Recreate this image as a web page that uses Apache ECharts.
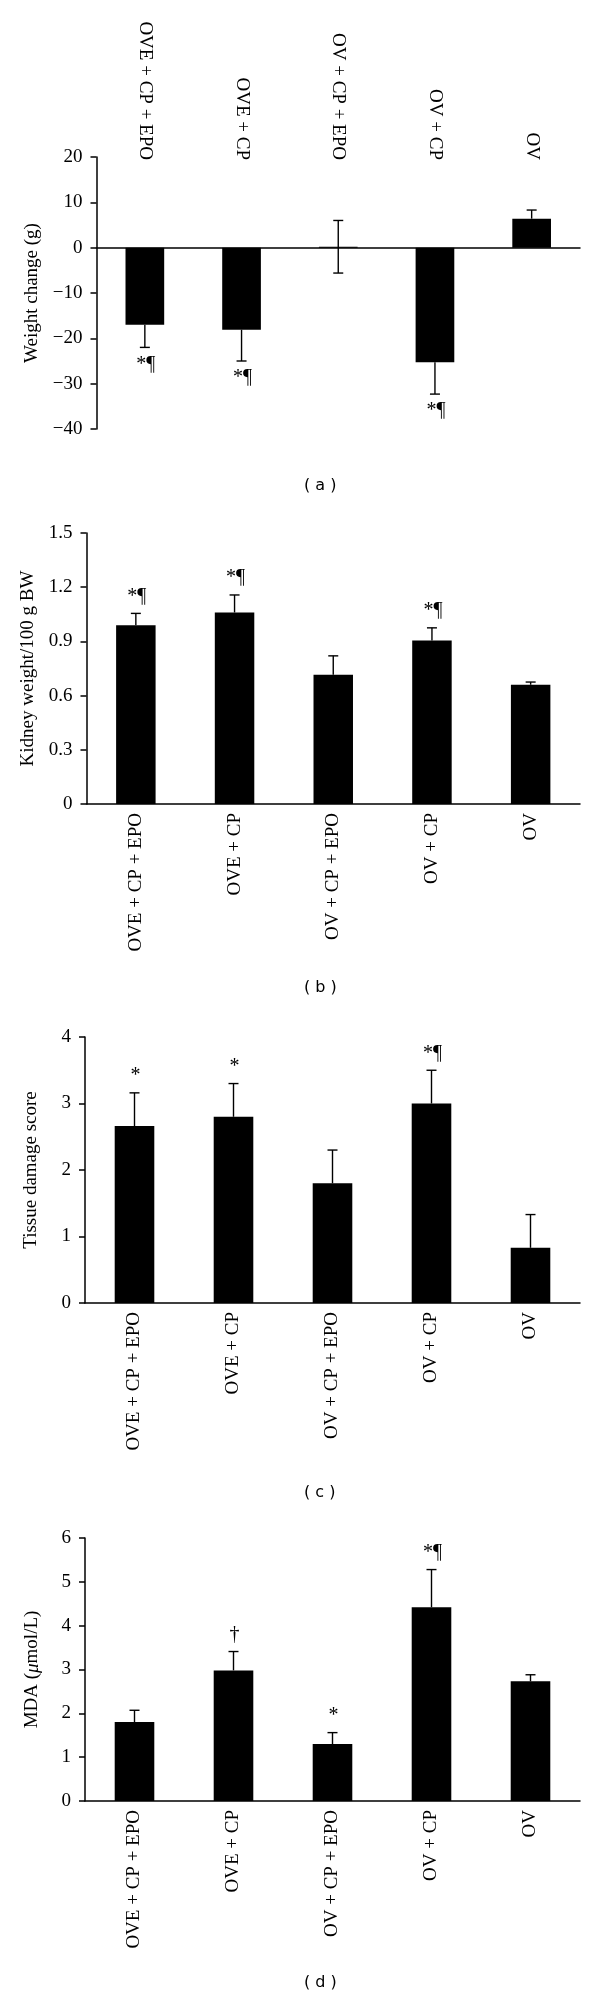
<!DOCTYPE html>
<html>
<head>
<meta charset="utf-8">
<script src="https://cdn.jsdelivr.net/npm/echarts@6/dist/echarts.min.js"></script>
<style>
html,body{margin:0;padding:0;background:#fff;}
#chart{width:600px;height:2003px;}
</style>
</head>
<body>
<div id="chart"></div>
<script>
// ---- data ----
const groups = ['OVE + CP + EPO', 'OVE + CP', 'OV + CP + EPO', 'OV + CP', 'OV'];

const weightChange = [-17.0, -18.1, 0.2, -25.3, 6.4];
const weightChangeErr = [5.0, 6.9, 5.8, 7.0, 1.9];
const weightChangeMarks = ['*¶', '*¶', '', '*¶', ''];

const kidneyWeight = [0.99, 1.06, 0.715, 0.905, 0.66];
const kidneyWeightErr = [0.065, 0.097, 0.105, 0.07, 0.015];
const kidneyWeightMarks = ['*¶', '*¶', '', '*¶', ''];

const tissueDamage = [2.66, 2.80, 1.80, 3.00, 0.83];
const tissueDamageErr = [0.50, 0.50, 0.50, 0.50, 0.50];
const tissueDamageMarks = ['*', '*', '', '*¶', ''];

const mda = [1.80, 2.98, 1.30, 4.42, 2.73];
const mdaErr = [0.27, 0.43, 0.26, 0.86, 0.15];
const mdaMarks = ['', '†', '*', '*¶', ''];

const panelLetters = ['( a )', '( b )', '( c )', '( d )'];

// ---- chart ----
const SERIF = '"Liberation Serif", "DejaVu Serif", serif';
const chart = echarts.init(document.getElementById('chart'), null, {renderer: 'canvas'});

const panels = [
  {name: 'Weight change (g)', vals: weightChange, err: weightChangeErr, marks: weightChangeMarks,
   min: -40, max: 20, interval: 10, grid: {left: 96.5, right: 20, top: 157, height: 272}, nameGap: 55, top: true},
  {name: 'Kidney weight/100 g BW', vals: kidneyWeight, err: kidneyWeightErr, marks: kidneyWeightMarks,
   min: 0, max: 1.5, interval: 0.3, grid: {left: 86.5, right: 20, top: 533, height: 271}, nameGap: 45},
  {name: 'Tissue damage score', vals: tissueDamage, err: tissueDamageErr, marks: tissueDamageMarks,
   min: 0, max: 4, interval: 1, grid: {left: 85, right: 20, top: 1037, height: 266}, nameGap: 44},
  {name: 'MDA ({i|μ}mol/L)', vals: mda, err: mdaErr, marks: mdaMarks,
   min: 0, max: 6, interval: 1, grid: {left: 85, right: 20, top: 1538, height: 263}, nameGap: 43}
];

const grids = [], xAxes = [], yAxes = [], series = [];
panels.forEach((p, i) => {
  grids.push(Object.assign({containLabel: false}, p.grid));
  const xi = xAxes.length;
  xAxes.push({
    type: 'category', gridIndex: i, data: groups, position: 'bottom',
    axisLine: {show: true, onZero: true, lineStyle: {color: '#000', width: 1.5}},
    axisTick: {show: false},
    axisLabel: p.top ? {show: false} : {show: true, rotate: 90, margin: 9, color: '#000', fontFamily: SERIF, fontSize: 19}
  });
  if (p.top) {
    xAxes.push({
      type: 'category', gridIndex: i, data: groups, position: 'top',
      axisLine: {show: false, onZero: false}, axisTick: {show: false},
      axisLabel: {show: true, rotate: 90, margin: -3, color: '#000', fontFamily: SERIF, fontSize: 19}
    });
  }
  yAxes.push({
    type: 'value', gridIndex: i, min: p.min, max: p.max, interval: p.interval,
    name: p.name, nameLocation: 'middle', nameRotate: 90, nameGap: p.nameGap,
    nameTextStyle: {color: '#000', fontFamily: SERIF, fontSize: 19,
      rich: {i: {fontStyle: 'italic', fontFamily: SERIF, fontSize: 19, color: '#000'}}},
    axisLine: {show: true, lineStyle: {color: '#000', width: 1.5}},
    axisTick: {show: true, length: 6, lineStyle: {color: '#000', width: 1.5}},
    splitLine: {show: false},
    axisLabel: {color: '#000', fontFamily: SERIF, fontSize: 19, margin: 14,
      formatter: v => String(Math.round(v * 10) / 10).replace('-', '\u2212')}
  });
  series.push({
    type: 'bar', xAxisIndex: xi, yAxisIndex: i, data: p.vals, barWidth: '40%',
    itemStyle: {color: '#000'}, silent: true, animation: false
  });
  series.push({
    type: 'custom', xAxisIndex: xi, yAxisIndex: i, animation: false, silent: true,
    data: p.vals.map((v, k) => [k, v, p.err[k]]),
    renderItem: (params, api) => {
      const k = api.value(0), v = api.value(1), e = api.value(2);
      const mark = p.marks[k];
      const both = Math.abs(v) < e / 2;
      const dir = v >= 0 ? 1 : -1;
      const hi = both ? v + e : v + dir * e;
      const lo = both ? v - e : v;
      const pHi = api.coord([k, hi]);
      const pLo = api.coord([k, lo]);
      const cap = 5;
      const st = {stroke: '#000', lineWidth: 1.4};
      const children = [
        {type: 'line', shape: {x1: pHi[0], y1: pHi[1], x2: pLo[0], y2: pLo[1]}, style: st},
        {type: 'line', shape: {x1: pHi[0] - cap, y1: pHi[1], x2: pHi[0] + cap, y2: pHi[1]}, style: st}
      ];
      if (both) children.push({type: 'line', shape: {x1: pLo[0] - cap, y1: pLo[1], x2: pLo[0] + cap, y2: pLo[1]}, style: st});
      if (mark) {
        const end = api.coord([k, v + dir * e]);
        children.push({type: 'text', style: {text: mark, x: end[0] + 1, y: end[1] - dir * 17,
          align: 'center', verticalAlign: 'middle', font: '20px ' + SERIF, fill: '#000'}});
      }
      return {type: 'group', children};
    }
  });
});

const letterY = [488, 990, 1495, 1985];
const graphic = panelLetters.map((t, i) => ({
  type: 'text', left: 304, top: letterY[i] - 10,
  style: {text: t, font: '16px "DejaVu Sans", "Liberation Sans", sans-serif', fill: '#000'}
}));

chart.setOption({
  animation: false,
  backgroundColor: '#fff',
  grid: grids, xAxis: xAxes, yAxis: yAxes, series, graphic
});
</script>
</body>
</html>
